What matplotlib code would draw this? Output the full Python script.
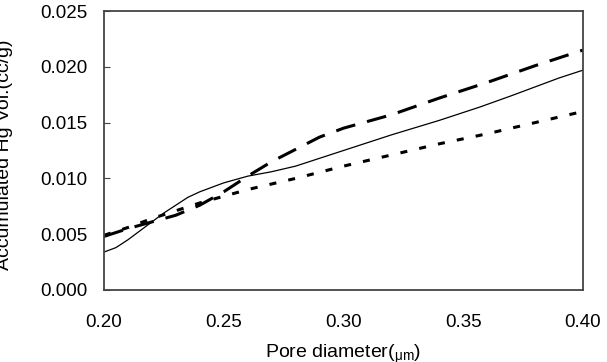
import matplotlib.pyplot as plt

plt.rcParams['font.family'] = ['Liberation Sans', 'DejaVu Sans']

# solid line
x_solid = [0.20, 0.205, 0.21, 0.215, 0.22, 0.225, 0.23, 0.235, 0.24, 0.245, 0.25,
           0.26, 0.27, 0.28, 0.29, 0.30, 0.32, 0.34, 0.357, 0.37, 0.38, 0.39, 0.40]
y_solid = [0.0034, 0.0038, 0.0045, 0.0053, 0.0061, 0.0069, 0.0076, 0.0083, 0.0088, 0.0092, 0.0096,
           0.0102, 0.0106, 0.0111, 0.0118, 0.0125, 0.0139, 0.0152, 0.0164, 0.0174, 0.0182, 0.0190, 0.0197]

# long dash line
x_dash = [0.20, 0.21, 0.22, 0.23, 0.24, 0.25, 0.26, 0.27, 0.28, 0.29, 0.30,
          0.31, 0.32, 0.34, 0.36, 0.38, 0.40]
y_dash = [0.0048, 0.0055, 0.0061, 0.0067, 0.0076, 0.0088, 0.0102, 0.0115, 0.0126, 0.0137, 0.0145,
          0.0151, 0.0157, 0.0172, 0.0186, 0.0201, 0.0215]

# short dash line
x_dot = [0.20, 0.21, 0.22, 0.23, 0.24, 0.25, 0.26, 0.27, 0.28, 0.30, 0.32,
         0.34, 0.36, 0.38, 0.40]
y_dot = [0.0049, 0.0056, 0.0064, 0.0071, 0.0078, 0.0084, 0.0090, 0.0095, 0.0100, 0.0111, 0.0121,
         0.0131, 0.0140, 0.0150, 0.0160]

xticks = [0.20, 0.25, 0.30, 0.35, 0.40]
yticks = [0.000, 0.005, 0.010, 0.015, 0.020, 0.025]

fig = plt.figure(figsize=(6.07, 3.62), dpi=100)
ax = fig.add_axes([0.1713, 0.1989, 0.7892, 0.7707])

ax.plot(x_solid, y_solid, color='black', lw=0.9)
ax.plot(x_dash, y_dash, color='black', lw=2.2, dashes=(6.5, 4.0))
ax.plot(x_dot, y_dot, color='black', lw=2.2, dashes=(2.3, 4.0))

ax.set_xlim(0.20, 0.40)
ax.set_ylim(0.0, 0.025)
ax.set_xticks(xticks)
ax.set_xticklabels([f'{v:.2f}' for v in xticks])
ax.set_yticks(yticks)
ax.set_yticklabels([f'{v:.3f}' for v in yticks])

ax.tick_params(axis='y', direction='in', length=4, width=0.8, color='#444444',
               labelsize=13.5, pad=12)
ax.tick_params(axis='x', length=0, labelsize=13.5, pad=17)
for s in ax.spines.values():
    s.set_color('#444444')
    s.set_linewidth(1.3)

ax.set_xlabel(r'Pore diameter($\mathregular{_{\mu m}}$)', fontsize=14)
ax.xaxis.set_label_coords(0.5, -0.19)

fig.text(0.008, 0.255, 'Accumulated Hg Vol.(cc/g)', rotation=90, fontsize=14,
         ha='center', va='bottom')

fig.savefig('out.png', dpi=100)
